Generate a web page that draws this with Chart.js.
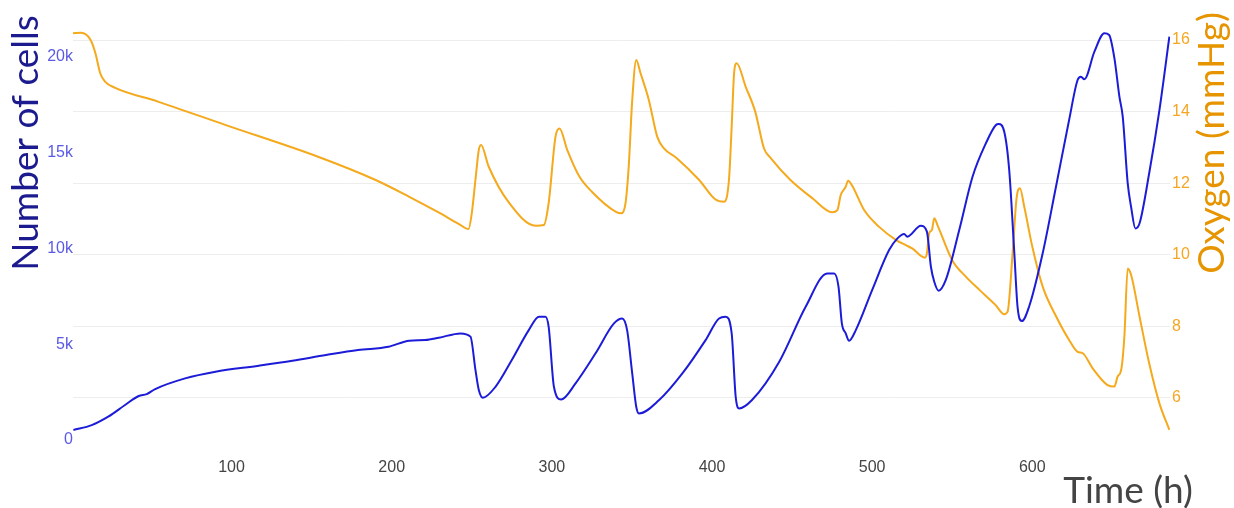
<!DOCTYPE html>
<html>
<head>
<meta charset="utf-8">
<script src="https://cdn.jsdelivr.net/npm/chart.js@4"></script>
<style>
  body { margin: 0; background: #fff; }
  #wrap { width: 1234px; height: 508px; position: relative; }
</style>
</head>
<body>
<div id="wrap"><canvas id="cellsChart"></canvas></div>
<script>
// time (h) and number of cells
const cellHours = [1.25, 12.7, 23, 33.5, 42, 47, 52, 71, 90, 117, 138, 159, 179, 198, 211, 221, 229.4, 243, 249.2,
    252.3, 254.4, 256.9, 264.8, 275, 285.6, 292, 296, 298, 301.3, 305.8, 314.8, 327.3, 338.8, 343.9, 347,
    350.2, 352.7, 354.4, 367, 381.5, 396, 404.4, 408.5, 412.3, 414.8, 417, 425, 442, 458.5, 472, 476.3,
    479, 481.1, 483.5, 485.6, 489.8, 500, 510.6, 515.8, 520, 522, 530.4, 534.2, 536.7, 538.8, 541.5, 546,
    554.4, 562.7, 571, 577.3, 579, 582.5, 585.6, 588.8, 590.8, 593.5, 598, 606.5, 614.8, 623, 628.3, 630.4,
    632.5, 638.8, 645, 648, 651.3, 654.4, 656.5, 659.6, 661.7, 664.4, 667, 673, 679.4, 685.6];
const cellCounts = [520, 780, 1220, 1830, 2300, 2400, 2650, 3220, 3570, 3880, 4140, 4440, 4700, 4870, 5190, 5220, 5340, 5570, 5400,
    3660, 2610, 2210, 2780, 4180, 5740, 6440, 6440, 5920, 2780, 2120, 2960, 4530, 6090, 6350, 5740,
    3480, 1740, 1390, 2090, 3480, 5220, 6350, 6440, 5570, 2260, 1650, 2090, 4090, 6960, 8700, 8700,
    8010, 6090, 5570, 5190, 5740, 7830, 9920, 10530, 10760, 10620, 11190, 10880, 9050, 8270, 7800, 8360,
    10970, 13750, 15490, 16450, 16500, 16100, 14100, 9750, 6960, 6210, 6960, 9750, 13230, 16710, 18800, 18970,
    18840, 20280, 21240, 21150, 19930, 17930, 16880, 13400, 12180, 11050, 11320, 13930, 17230, 21060];

// time (h) and oxygen (mmHg)
const oxygenHours = [1, 6, 12, 15, 18, 21, 27, 54, 96, 154, 190, 211, 229, 242, 248, 250, 252.3, 254.4, 255.8, 260.6,
    273, 290, 295, 298, 302.3, 304.8, 309.6, 317, 325, 340, 343.5, 346, 348, 350.2, 352.7, 355.4, 360.6,
    365.8, 370, 378, 392, 402, 407.5, 410.6, 412.3, 413.8, 415.4, 421, 427, 432.5, 436.7, 449, 462.7, 475,
    478.3, 480.4, 483.5, 485, 487.3, 495, 504.4, 515, 521, 525, 533, 534.2, 535.6, 537.3, 538.8, 540.8,
    550, 558.5, 567, 577, 582.5, 584.6, 587.7, 590.2, 592.3, 595, 600, 606.5, 615, 623, 628.3, 631.5,
    637.7, 647, 651.3, 653.3, 655.5, 657.5, 659.6, 661.7, 667, 673, 679.4, 685.6];
const oxygenLevels = [16.19, 16.2, 16.0, 15.63, 15.07, 14.84, 14.67, 14.28, 13.63, 12.74, 12.09, 11.62, 11.19, 10.86, 10.72, 11.16, 12.09, 12.93, 13.07, 12.46,
    11.47, 10.81, 10.83, 11.44, 13.3, 13.53, 12.93, 12.2, 11.76, 11.2, 11.16, 11.44, 12.46, 14.32, 15.44, 15.07, 14.32,
    13.3, 12.97, 12.7, 12.09, 11.55, 11.48, 12.09, 13.58, 15.07, 15.35, 14.7, 14.0, 12.97, 12.7, 12.09, 11.58, 11.19,
    11.25, 11.67, 11.9, 12.07, 11.95, 11.25, 10.78, 10.41, 10.27, 10.18, 9.92, 10.04, 10.6, 10.69, 11.02, 10.83,
    9.85, 9.39, 9.02, 8.6, 8.34, 8.41, 10.04, 11.58, 11.86, 11.34, 10.23, 9.11, 8.27, 7.62, 7.29, 7.25,
    6.83, 6.36, 6.32, 6.6, 6.78, 7.71, 9.62, 9.44, 8.27, 6.97, 5.85, 5.11];

// tick values
const cellTicks = [0, 5000, 10000, 15000, 20000];
const oxygenTicks = [6, 8, 10, 12, 14, 16];
const hourTicks = [100, 200, 300, 400, 500, 600];

const toPoints = (xs, ys) => xs.map((x, i) => ({ x: x, y: ys[i] }));
const fixTicks = (values) => (scale) => { scale.ticks = values.map(v => ({ value: v })); };
const tickFont = { family: 'Liberation Sans', size: 16 };

// axis titles drawn by hand so they sit where the original put them
const axisTitles = {
    id: 'axisTitles',
    afterDraw(chart) {
        const ctx = chart.ctx;
        ctx.save();
        ctx.font = '37px Lato';
        ctx.textAlign = 'center';
        ctx.textBaseline = 'middle';

        ctx.save();
        ctx.translate(26, 143);
        ctx.rotate(-Math.PI / 2);
        ctx.fillStyle = '#1b1b8f';
        ctx.fillText('Number of cells', 0, 0);
        ctx.restore();

        ctx.save();
        ctx.translate(1212, 143);
        ctx.rotate(-Math.PI / 2);
        ctx.fillStyle = '#e69500';
        ctx.fillText('Oxygen (mmHg)', 0, 0);
        ctx.restore();

        ctx.textAlign = 'right';
        ctx.fillStyle = '#444444';
        ctx.fillText('Time (h)', 1193, 491);
        ctx.restore();
    }
};

const ctx = document.getElementById('cellsChart').getContext('2d');
const chart = new Chart(ctx, {
    type: 'line',
    data: {
        datasets: [{
            label: 'Number of cells',
            data: toPoints(cellHours, cellCounts),
            yAxisID: 'yCells',
            borderColor: '#1c1cd8',
            borderWidth: 2,
            pointRadius: 0,
            cubicInterpolationMode: 'monotone'
        }, {
            label: 'Oxygen (mmHg)',
            data: toPoints(oxygenHours, oxygenLevels),
            yAxisID: 'yOxygen',
            borderColor: '#f5a91c',
            borderWidth: 2,
            pointRadius: 0,
            cubicInterpolationMode: 'monotone'
        }]
    },
    options: {
        responsive: true,
        maintainAspectRatio: false,
        animation: false,
        devicePixelRatio: 1,
        layout: { padding: { top: 22, left: 0, right: 0, bottom: 0 } },
        plugins: {
            legend: { display: false },
            tooltip: { enabled: false }
        },
        scales: {
            x: {
                type: 'linear',
                min: 1,
                max: 686,
                grid: { display: false, drawTicks: false },
                border: { display: false },
                afterBuildTicks: fixTicks(hourTicks),
                afterFit: (scale) => { scale.height = 58; },
                ticks: {
                    padding: 8,
                    maxRotation: 0,
                    color: '#444444',
                    font: tickFont
                }
            },
            yCells: {
                type: 'linear',
                position: 'left',
                min: -520,
                max: 21830,
                grid: { display: false, drawTicks: false },
                border: { display: false },
                afterBuildTicks: fixTicks(cellTicks),
                afterFit: (scale) => { scale.width = 73; },
                ticks: {
                    padding: 0,
                    color: '#5a5ae4',
                    font: tickFont,
                    callback: (v) => v === 0 ? '0' : (v / 1000) + 'k'
                }
            },
            yOxygen: {
                type: 'linear',
                position: 'right',
                min: 4.547,
                max: 16.503,
                grid: { color: '#ededed', lineWidth: 1, drawTicks: false },
                border: { display: false },
                afterBuildTicks: fixTicks(oxygenTicks),
                afterFit: (scale) => { scale.width = 64; },
                ticks: {
                    padding: 2,
                    color: '#f5a623',
                    font: tickFont
                }
            }
        }
    },
    plugins: [axisTitles]
});
</script>
</body>
</html>
